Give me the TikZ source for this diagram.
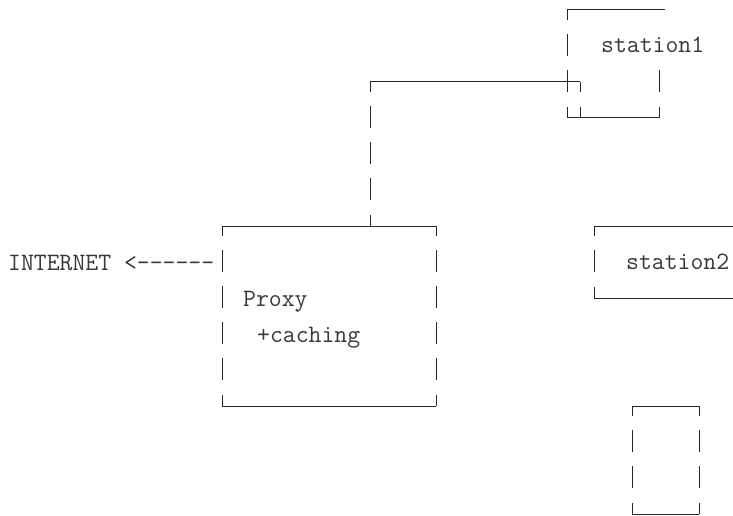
\documentclass[tikz,border=0pt]{standalone}
\usepackage{fontspec}
\begin{document}
\begin{tikzpicture}[x=1pt,y=-1pt,
  rule/.style={draw=black!85, line width=1pt},
  glyph/.style={font=\ttfamily\fontsize{25}{25}\selectfont, text=black!78,
                inner sep=0pt, anchor=base west},
  vbar/.pic={\draw[rule] (0,-12) -- (0,10);},
  tickdown/.pic={\draw[rule] (0,0) -- (0,10);},
  tickup/.pic={\draw[rule] (0,-11) -- (0,0);}]
\useasboundingbox (0,0) rectangle (733,516);

% ---- Proxy box (rows 226 .. 406)
\coordinate (pxTL) at (222,226);
\coordinate (pxTR) at (436,226);
\coordinate (pxBL) at (222,406);
\coordinate (pxBR) at (436,406);
\draw[rule] (pxTL) -- (pxTR);
\draw[rule] (pxBL) -- (pxBR);
\pic at (pxTL) {tickdown};
\pic at (pxTR) {tickdown};
\pic at (pxBL) {tickup};
\pic at (pxBR) {tickup};
\foreach \y in {262,298,334,370} {
  \pic at (222,\y) {vbar};
  \pic at (436,\y) {vbar};
}
\node[glyph] (inet) at (8,270) {INTERNET <------};
\node[glyph] (proxy) at (243,306) {Proxy};
\node[glyph] (caching) at (257,342) {+caching};

% ---- station1 box (rows 10 .. 118)
\coordinate (sTL) at (567,10);
\coordinate (sTE) at (665,10);
\coordinate (sBL) at (567,118);
\coordinate (sBR) at (659,118);
\draw[rule] (sTL) -- (sTE);
\draw[rule] (sBL) -- (sBR);
\pic at (sTL) {tickdown};
\pic at (567,46) {vbar};
\pic at (567,82) {vbar};
\pic at (659,82) {vbar};
\pic at (sBL) {tickup};
\pic at (sBR) {tickup};
\node[glyph] (st1) at (601,53) {station1};

% ---- link from the proxy up to station1
\coordinate (linkFoot) at (370,226);
\coordinate (linkBend) at (370,82);
\coordinate (linkEnd) at (580,82);
\coordinate (linkDrop) at (580,118);
\pic at (linkFoot) {tickup};
\foreach \y in {118,154,190} { \pic at (370,\y) {vbar}; }
\draw[rule] (linkBend) -- (linkEnd);
\pic at (linkBend) {tickdown};
\pic at (linkEnd) {tickdown};
\pic at (linkDrop) {tickup};

% ---- station2 box (rows 226 .. 298), open on the right
\coordinate (tTL) at (594,226);
\coordinate (tTE) at (733,226);
\coordinate (tBL) at (594,298);
\coordinate (tBE) at (733,298);
\draw[rule] (tTL) -- (tTE);
\draw[rule] (tBL) -- (tBE);
\pic at (tTL) {tickdown};
\pic at (594,262) {vbar};
\pic at (tBL) {tickup};
\node[glyph] (st2) at (626,269) {station2};

% ---- empty box (rows 406 .. 514)
\coordinate (eTL) at (632,406);
\coordinate (eTR) at (699,406);
\coordinate (eBL) at (632,514);
\coordinate (eBR) at (699,514);
\draw[rule] (eTL) -- (eTR);
\draw[rule] (eBL) -- (eBR);
\pic at (eTL) {tickdown};
\pic at (eTR) {tickdown};
\pic at (eBL) {tickup};
\pic at (eBR) {tickup};
\foreach \y in {442,478} {
  \pic at (632,\y) {vbar};
  \pic at (699,\y) {vbar};
}
\end{tikzpicture}
\end{document}
